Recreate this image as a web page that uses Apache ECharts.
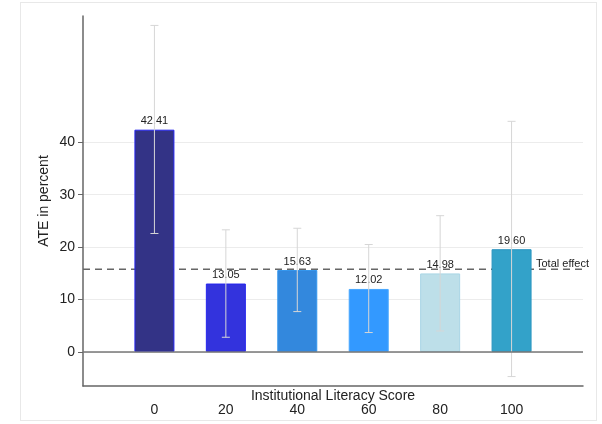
<!DOCTYPE html>
<html>
<head>
<meta charset="utf-8">
<script src="https://cdn.jsdelivr.net/npm/echarts@6/dist/echarts.min.js"></script>
<style>
  html, body { margin: 0; padding: 0; background: #fff; }
  #frame { position: absolute; left: 20px; top: 2px; width: 575px; height: 417px; border: 1px solid #e8e8e8; pointer-events: none; }
  #chart { position: absolute; left: 0; top: 0; width: 602px; height: 424px; }
</style>
</head>
<body>
<div id="frame"></div>
<div id="chart"></div>
<script>
const categories = [0, 20, 40, 60, 80, 100];
const ate = [42.41, 13.05, 15.63, 12.02, 14.98, 19.60];
const ciLow = [22.6, 2.8, 7.7, 3.7, 4.0, -4.7];
const ciHigh = [62.3, 23.3, 23.6, 20.5, 26.0, 44.0];
const yTickValues = [0, 10, 20, 30, 40];
const xTickValues = [0, 20, 40, 60, 80, 100];
const totalEffect = 15.8;
const totalEffectLabel = 'Total effect';

const fills = ['#333386', '#3333dd', '#3388dd', '#3399ff', '#bddfe9', '#33a2c9'];
const borders = ['#2424f0', '#2525ee', '#3497ee', '#48a8ff', '#a9d6e6', '#2b95c0'];

const chart = echarts.init(document.getElementById('chart'), null, { renderer: 'canvas' });

const barData = categories.map((c, i) => ({
  value: [c, ate[i]],
  itemStyle: { color: fills[i], borderColor: borders[i], borderWidth: 1 }
}));
const errData = categories.map((c, i) => [c, ciLow[i], ciHigh[i]]);

const option = {
  animation: false,
  textStyle: { fontFamily: 'Liberation Sans, Arial, sans-serif' },
  grid: { left: 83, right: 19, top: 16, bottom: 38, containLabel: false, outerBoundsMode: 'none' },
  xAxis: {
    type: 'value',
    min: -20, max: 120, interval: 20,
    name: 'Institutional Literacy Score',
    nameLocation: 'middle',
    nameGap: 3,
    nameMoveOverlap: false,
    nameTextStyle: { fontSize: 14, color: '#222', verticalAlign: 'top' },
    axisLine: { show: true, onZero: false, lineStyle: { color: '#666', width: 1.5 } },
    axisTick: { show: false },
    splitLine: { show: false },
    axisLabel: { customValues: xTickValues, fontSize: 14, color: '#222', margin: 17 }
  },
  yAxis: {
    type: 'value',
    min: -6.5, max: 64.1,
    name: 'ATE in percent',
    nameLocation: 'middle',
    nameGap: 32,
    nameMoveOverlap: false,
    nameTextStyle: { fontSize: 14, color: '#222' },
    axisLine: { show: true, onZero: false, lineStyle: { color: '#666', width: 1.5 } },
    axisTick: { show: true, customValues: yTickValues, length: 5, lineStyle: { color: '#666' } },
    axisLabel: { customValues: yTickValues, fontSize: 14, color: '#222', margin: 8 },
    splitLine: { show: true, lineStyle: { color: '#ececec', width: 1 } }
  },
  series: [
    {
      type: 'line',
      z: 1,
      silent: true,
      data: [
        [-20, totalEffect],
        {
          value: [120, totalEffect],
          label: {
            show: true, position: 'top', align: 'right', distance: 0,
            offset: [6, 0],
            formatter: totalEffectLabel, fontSize: 11, color: '#222'
          }
        }
      ],
      symbol: 'circle', symbolSize: 0, showSymbol: true,
      lineStyle: { color: '#666', width: 1.5, type: [7, 5] }
    },
    {
      type: 'bar',
      z: 2,
      barWidth: 40,
      data: barData,
      label: {
        show: true, position: 'top', distance: 3,
        fontSize: 11, color: '#222',
        formatter: p => p.value[1].toFixed(2)
      },
      markLine: {
        silent: true, symbol: 'none',
        label: { show: false },
        lineStyle: { color: '#777', width: 1.5, type: 'solid' },
        data: [{ yAxis: 0 }]
      }
    },
    {
      type: 'custom',
      z: 3,
      silent: true,
      data: errData,
      encode: { x: 0, y: [1, 2] },
      renderItem: function (params, api) {
        const x = api.value(0);
        const pLo = api.coord([x, api.value(1)]);
        const pHi = api.coord([x, api.value(2)]);
        const w = 4;
        const st = { stroke: '#d6d6d6', lineWidth: 1 };
        return {
          type: 'group',
          children: [
            { type: 'line', shape: { x1: pHi[0], y1: pHi[1], x2: pLo[0], y2: pLo[1] }, style: st },
            { type: 'line', shape: { x1: pHi[0] - w, y1: pHi[1], x2: pHi[0] + w, y2: pHi[1] }, style: st },
            { type: 'line', shape: { x1: pLo[0] - w, y1: pLo[1], x2: pLo[0] + w, y2: pLo[1] }, style: st }
          ]
        };
      }
    }
  ]
};
chart.setOption(option);
</script>
</body>
</html>
